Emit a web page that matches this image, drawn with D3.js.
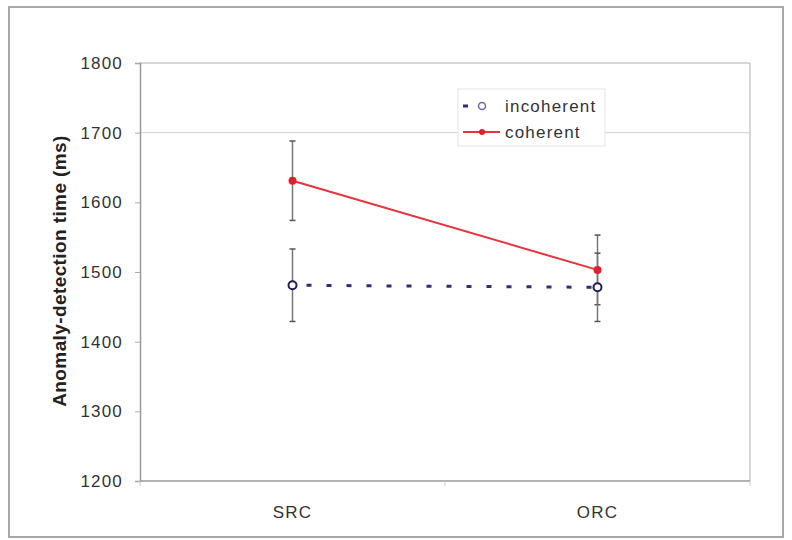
<!DOCTYPE html>
<html lang="en">
<head>
    <meta charset="UTF-8">
    <title>Anomaly-detection time</title>
    <script src="https://d3js.org/d3.v7.min.js"></script>
    <style>
        body { margin: 0; background: #fff; }
        text { font-family: "Liberation Sans", Arial, sans-serif; fill: #333; }
    </style>
</head>
<body>
    <div id="chart"></div>
    <script>
        // values
        const categories = ["SRC", "ORC"];
        const seriesNames = ["incoherent", "coherent"];
        const incoherentMean = [1481, 1478];
        const incoherentErr = [52, 49];
        const coherentMean = [1631, 1503];
        const coherentErr = [57, 50];
        const yTicks = [1200, 1300, 1400, 1500, 1600, 1700, 1800];
        const gridValues = [1700];

        const width = 792, height = 540;
        const plot = { left: 140, right: 750, top: 63, bottom: 481 };

        const svg = d3.select("#chart").append("svg")
            .attr("width", width)
            .attr("height", height);

        // outer frame
        svg.append("rect")
            .attr("x", 9).attr("y", 7)
            .attr("width", 774).attr("height", 530)
            .attr("fill", "none")
            .attr("stroke", "#a8a8a8")
            .attr("stroke-width", 2);

        const x = d3.scalePoint().domain(categories).range([plot.left, plot.right]).padding(0.5);
        const xBand = d3.scaleBand().domain(categories).range([plot.left, plot.right]);
        const y = d3.scaleLinear().domain([1200, 1800]).range([plot.bottom, plot.top]);

        // plot frame (top / right light)
        svg.append("line")
            .attr("x1", plot.left).attr("x2", plot.right)
            .attr("y1", plot.top).attr("y2", plot.top)
            .attr("stroke", "#c8c8c8").attr("stroke-width", 1.5);
        svg.append("line")
            .attr("x1", plot.right).attr("x2", plot.right)
            .attr("y1", plot.top).attr("y2", plot.bottom)
            .attr("stroke", "#c8c8c8").attr("stroke-width", 1.5);

        // gridline
        svg.selectAll(".grid")
            .data(gridValues)
            .enter().append("line")
            .attr("class", "grid")
            .attr("x1", plot.left).attr("x2", plot.right)
            .attr("y1", d => y(d)).attr("y2", d => y(d))
            .attr("stroke", "#d0d0d0").attr("stroke-width", 1);

        // y axis
        const yAxis = svg.append("g")
            .attr("transform", "translate(" + plot.left + ",0)")
            .call(d3.axisLeft(y).tickValues(yTicks).tickSize(5).tickPadding(12).tickFormat(d3.format("d")));
        yAxis.select(".domain").attr("stroke", "#999").attr("stroke-width", 1.5);
        yAxis.selectAll(".tick line").attr("stroke", "#aaa");
        yAxis.selectAll(".tick text")
            .style("font-size", "17px")
            .style("letter-spacing", "1.2px")
            .attr("fill", "#333");

        // x axis
        const xAxis = svg.append("g")
            .attr("transform", "translate(0," + plot.bottom + ")");
        xAxis.append("line")
            .attr("x1", plot.left).attr("x2", plot.right)
            .attr("stroke", "#999").attr("stroke-width", 1.5);
        const divs = [plot.left].concat(categories.map(c => xBand(c) + xBand.bandwidth()));
        xAxis.selectAll(".xtick")
            .data(divs)
            .enter().append("line")
            .attr("x1", d => d).attr("x2", d => d)
            .attr("y1", 0).attr("y2", 5)
            .attr("stroke", "#ccc");
        xAxis.selectAll(".xlabel")
            .data(categories)
            .enter().append("text")
            .attr("x", d => x(d))
            .attr("y", 37)
            .attr("text-anchor", "middle")
            .style("font-size", "17px")
            .style("letter-spacing", "1.2px")
            .text(d => d);

        // y axis title
        svg.append("text")
            .attr("transform", "translate(66,271) rotate(-90)")
            .attr("text-anchor", "middle")
            .style("font-size", "19px")
            .style("font-weight", "bold")
            .style("letter-spacing", "0.4px")
            .style("fill", "#222")
            .text("Anomaly-detection time (ms)");

        const incoherent = categories.map((c, i) => ({ cat: c, mean: incoherentMean[i], err: incoherentErr[i] }));
        const coherent = categories.map((c, i) => ({ cat: c, mean: coherentMean[i], err: coherentErr[i] }));

        // error bars
        function errorBars(data, cls) {
            const g = svg.append("g").attr("class", cls);
            g.selectAll(".v").data(data).enter().append("line")
                .attr("x1", d => x(d.cat)).attr("x2", d => x(d.cat))
                .attr("y1", d => y(d.mean - d.err)).attr("y2", d => y(d.mean + d.err))
                .attr("stroke", "#777").attr("stroke-width", 1.5);
            g.selectAll(".t").data(data).enter().append("line")
                .attr("x1", d => x(d.cat) - 3).attr("x2", d => x(d.cat) + 3)
                .attr("y1", d => y(d.mean + d.err)).attr("y2", d => y(d.mean + d.err))
                .attr("stroke", "#555").attr("stroke-width", 1.5);
            g.selectAll(".b").data(data).enter().append("line")
                .attr("x1", d => x(d.cat) - 3).attr("x2", d => x(d.cat) + 3)
                .attr("y1", d => y(d.mean - d.err)).attr("y2", d => y(d.mean - d.err))
                .attr("stroke", "#555").attr("stroke-width", 1.5);
        }
        errorBars(coherent, "err-coh");
        errorBars(incoherent, "err-inc");

        const line = d3.line().x(d => x(d.cat)).y(d => y(d.mean));

        // coherent series
        svg.append("path")
            .datum(coherent)
            .attr("d", line)
            .attr("fill", "none")
            .attr("stroke", "#e8323c")
            .attr("stroke-width", 2);
        svg.selectAll(".coh-pt")
            .data(coherent)
            .enter().append("circle")
            .attr("cx", d => x(d.cat)).attr("cy", d => y(d.mean))
            .attr("r", 4)
            .attr("fill", "#e0202c");

        // incoherent series
        svg.append("path")
            .datum(incoherent)
            .attr("d", line)
            .attr("fill", "none")
            .attr("stroke", "#2e2e78")
            .attr("stroke-width", 3)
            .attr("stroke-dasharray", "5,15")
            .attr("stroke-dashoffset", -14);
        svg.selectAll(".inc-pt")
            .data(incoherent)
            .enter().append("circle")
            .attr("cx", d => x(d.cat)).attr("cy", d => y(d.mean))
            .attr("r", 4)
            .attr("fill", "#fff")
            .attr("stroke", "#1e1e5a")
            .attr("stroke-width", 2);

        // legend
        const legend = svg.append("g").attr("transform", "translate(458,89)");
        legend.append("rect")
            .attr("width", 147).attr("height", 57)
            .attr("fill", "#fff")
            .attr("stroke", "#e4e4e4");
        const items = legend.selectAll(".item")
            .data(seriesNames)
            .enter().append("g")
            .attr("transform", (d, i) => "translate(0," + (17 + i * 26) + ")");
        items.append("line")
            .attr("x1", 5).attr("x2", d => d === "incoherent" ? 10 : 42)
            .attr("stroke", d => d === "incoherent" ? "#2e2e78" : "#e8323c")
            .attr("stroke-width", d => d === "incoherent" ? 3 : 2);
        items.append("circle")
            .attr("cx", 24)
            .attr("r", d => d === "incoherent" ? 3.5 : 3)
            .attr("fill", d => d === "incoherent" ? "#fff" : "#e0202c")
            .attr("stroke", d => d === "incoherent" ? "#6a6aa0" : "none")
            .attr("stroke-width", 1.5);
        items.append("text")
            .attr("x", 47)
            .attr("dy", "0.35em")
            .style("font-size", "17px")
            .style("letter-spacing", "1.2px")
            .text(d => d);
    </script>
</body>
</html>
